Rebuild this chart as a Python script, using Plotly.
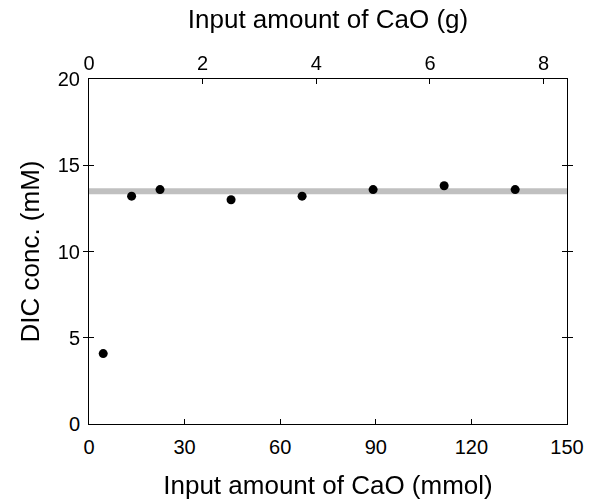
import plotly.graph_objects as go

# Data
cao_mmol = [4.46, 13.37, 22.29, 44.58, 66.87, 89.16, 111.45, 133.74]
dic_mM = [4.08, 13.21, 13.59, 13.0, 13.21, 13.59, 13.81, 13.59]
plateau_x = [0, 150]
plateau_y = [13.5, 13.5]
MW_CAO = 56.08  # g/mol

x_ticks = [0, 30, 60, 90, 120, 150]
x2_ticks = [0, 2, 4, 6, 8]
y_ticks = [0, 5, 10, 15, 20]

FONT = "Liberation Sans, Arial, sans-serif"

fig = go.Figure()
fig.add_trace(go.Scatter(x=plateau_x, y=plateau_y, mode="lines",
                         line=dict(color="#c0c0c0", width=6),
                         showlegend=False, hoverinfo="skip", cliponaxis=False))
fig.add_trace(go.Scatter(x=cao_mmol, y=dic_mM, mode="markers",
                         marker=dict(color="black", size=9),
                         showlegend=False))
fig.add_trace(go.Scatter(x=[m * MW_CAO / 1000 for m in cao_mmol], y=dic_mM,
                         xaxis="x2", mode="markers", opacity=0,
                         showlegend=False, hoverinfo="skip"))

axis_common = dict(showline=True, linecolor="black", linewidth=1,
                   ticks="inside", ticklen=5, tickcolor="black",
                   showgrid=False, zeroline=False, automargin=False,
                   tickfont=dict(family=FONT, size=20, color="black"))

fig.update_layout(
    width=594, height=503,
    margin=dict(l=89, r=27, t=79, b=79),
    plot_bgcolor="white", paper_bgcolor="white",
    font=dict(family=FONT, color="black"),
    xaxis=dict(range=[0, 150], tickvals=x_ticks, ticklabelstandoff=5,
               title=dict(text="Input amount of CaO (mmol)",
                          font=dict(family=FONT, size=26), standoff=18),
               **axis_common),
    xaxis2=dict(range=[0, 150 * MW_CAO / 1000], tickvals=x2_ticks,
                overlaying="x", side="top", anchor="y", ticklabelstandoff=0,
                title=dict(text="Input amount of CaO (g)",
                           font=dict(family=FONT, size=26), standoff=15),
                **axis_common),
    yaxis=dict(range=[0, 20], tickvals=y_ticks, mirror="allticks",
               ticklabelstandoff=4,
               title=dict(text="DIC conc. (mM)",
                          font=dict(family=FONT, size=26), standoff=10),
               **axis_common),
)

fig.write_html("out.html")
